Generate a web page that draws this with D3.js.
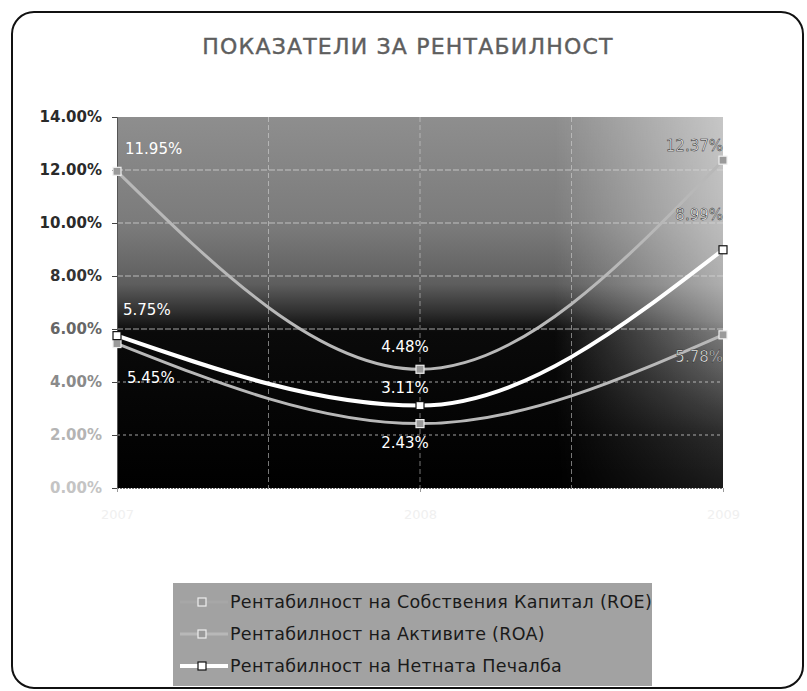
<!DOCTYPE html>
<html>
<head>
<meta charset="utf-8">
<script src="https://cdn.jsdelivr.net/npm/d3@7"></script>
<style>
  body { margin: 0; background: #fff; }
  text { font-family: "DejaVu Sans", "Liberation Sans", Arial, sans-serif; }
</style>
</head>
<body>
<div id="chart"></div>
<script>
var width = 807,
    height = 691,
    plot = {left: 117, right: 723, top: 117, bottom: 488};

// chart data
var title = "ПОКАЗАТЕЛИ ЗА РЕНТАБИЛНОСТ";
var categories = ["2007", "2008", "2009"];
var roe = [0.1195, 0.0448, 0.1237],
    roa = [0.0545, 0.0243, 0.0578],
    npm = [0.0575, 0.0311, 0.0899];
var seriesNames = [
    "Рентабилност на Собствения Капитал (ROE)",
    "Рентабилност на Активите (ROA)",
    "Рентабилност на Нетната Печалба"
];
var yTicks = [0, 0.02, 0.04, 0.06, 0.08, 0.10, 0.12, 0.14];

// look of each series, and where its data labels sit
var series = [
    {name: seriesNames[0], values: roe, line: "#b8b8b8", width: 3, mFill: "#9a9a9a", mStroke: "#eee",
     labels: [{a: "start", dx: 8, dy: -17}, {a: "middle", dx: -15, dy: -17}, {a: "end", dx: 0, dy: -9}]},
    {name: seriesNames[1], values: roa, line: "#b8b8b8", width: 3, mFill: "#9a9a9a", mStroke: "#eee",
     labels: [{a: "start", dx: 10, dy: 39}, {a: "middle", dx: -15, dy: 24}, {a: "end", dx: 0, dy: 27}]},
    {name: seriesNames[2], values: npm, line: "#ffffff", width: 4, mFill: "#fff", mStroke: "#111",
     labels: [{a: "start", dx: 6, dy: -21}, {a: "middle", dx: -15, dy: -13}, {a: "end", dx: 0, dy: -30}]}
];

var svg = d3.select("#chart").append("svg")
    .attr("width", width)
    .attr("height", height);

var defs = svg.append("defs");
var vg = defs.append("linearGradient").attr("id", "bgv")
    .attr("x1", 0).attr("y1", 0).attr("x2", 0).attr("y2", 1);
[[0, "#8e8e8e"], [0.3, "#7a7a7a"], [0.45, "#5e5e5e"], [0.52, "#333"], [0.58, "#0a0a0a"], [1, "#000"]]
    .forEach(function(s) { vg.append("stop").attr("offset", s[0]).attr("stop-color", s[1]); });
var hg = defs.append("linearGradient").attr("id", "bgh")
    .attr("x1", 0).attr("y1", 0).attr("x2", 1).attr("y2", 0);
[[0, 0], [0.72, 0], [0.9, 0.32], [1, 0.5]]
    .forEach(function(s) { hg.append("stop").attr("offset", s[0]).attr("stop-color", "#fff").attr("stop-opacity", s[1]); });
// the light strip on the right fades out towards the bottom
var mg = defs.append("linearGradient").attr("id", "fadev")
    .attr("x1", 0).attr("y1", 0).attr("x2", 0).attr("y2", 1);
[[0, "#fff"], [0.55, "#fff"], [0.85, "#555"], [1, "#333"]]
    .forEach(function(s) { mg.append("stop").attr("offset", s[0]).attr("stop-color", s[1]); });
defs.append("mask").attr("id", "rightmask")
    .append("rect")
    .attr("x", plot.left).attr("y", plot.top)
    .attr("width", plot.right - plot.left).attr("height", plot.bottom - plot.top)
    .attr("fill", "url(#fadev)");

// frame
svg.append("rect")
    .attr("x", 12).attr("y", 12)
    .attr("width", 791).attr("height", 676)
    .attr("rx", 22)
    .attr("fill", "#fff")
    .attr("stroke", "#111")
    .attr("stroke-width", 2);

svg.append("text")
    .attr("x", 408).attr("y", 54)
    .attr("text-anchor", "middle")
    .attr("font-size", 22)
    .attr("letter-spacing", 1.2)
    .attr("fill", "#5e5e5e")
    .attr("stroke", "#5e5e5e")
    .attr("stroke-width", 0.4)
    .text(title);

var x = d3.scalePoint().domain(categories).range([plot.left, plot.right]);
var y = d3.scaleLinear().domain([0, 0.14]).range([plot.bottom, plot.top]);

// plot area background
svg.append("rect")
    .attr("x", plot.left).attr("y", plot.top)
    .attr("width", plot.right - plot.left).attr("height", plot.bottom - plot.top)
    .attr("fill", "url(#bgv)");
svg.append("rect")
    .attr("x", plot.left).attr("y", plot.top)
    .attr("width", plot.right - plot.left).attr("height", plot.bottom - plot.top)
    .attr("fill", "url(#bgh)")
    .attr("mask", "url(#rightmask)");

// gridlines
svg.append("g").selectAll("line")
    .data(yTicks.slice(1, -1))
    .join("line")
    .attr("x1", plot.left).attr("x2", plot.right)
    .attr("y1", function(d) { return y(d); })
    .attr("y2", function(d) { return y(d); })
    .attr("stroke", "#d8d8d8")
    .attr("stroke-opacity", 0.75)
    .attr("stroke-dasharray", function(d) { return d < 0.05 ? "3,3" : "6,2"; });
var vgrid = [];
categories.forEach(function(c, i) {
    vgrid.push(x(c));
    if (i < categories.length - 1) vgrid.push((x(c) + x(categories[i + 1])) / 2);
});
svg.append("g").selectAll("line")
    .data(vgrid.slice(1, -1))
    .join("line")
    .attr("x1", function(d) { return d; }).attr("x2", function(d) { return d; })
    .attr("y1", plot.top).attr("y2", plot.bottom)
    .attr("stroke", "#d8d8d8")
    .attr("stroke-opacity", 0.55)
    .attr("stroke-dasharray", "5,3");

// axes
var yAxis = svg.append("g")
    .attr("transform", "translate(" + plot.left + ",0)")
    .call(d3.axisLeft(y).tickValues(yTicks).tickSize(5).tickPadding(10).tickFormat(d3.format(".2%")));
yAxis.select(".domain").attr("stroke", "#555");
yAxis.selectAll(".tick line").attr("stroke", "#444");
var yShade = ["#c4c4c4", "#b4b4b4", "#8a8a8a", "#666", "#333", "#2a2a2a", "#2a2a2a", "#2a2a2a"];
yAxis.selectAll(".tick text")
    .attr("font-family", "'DejaVu Sans', sans-serif")
    .attr("font-size", 15)
    .attr("font-weight", "bold")
    .attr("fill", function(d, i) { return yShade[i]; });

var xAxis = svg.append("g")
    .attr("transform", "translate(0," + plot.bottom + ")")
    .call(d3.axisBottom(x).tickSize(4).tickPadding(18));
xAxis.select(".domain").attr("stroke", "#777").attr("stroke-dasharray", "2,1");
xAxis.selectAll(".tick line").attr("stroke", "#999");
xAxis.selectAll(".tick text")
    .attr("font-family", "'DejaVu Sans', sans-serif")
    .attr("font-size", 13)
    .attr("fill", "#f0f0f0");

// lines
var line = d3.line()
    .x(function(d, i) { return x(categories[i]); })
    .y(function(d) { return y(d); })
    .curve(d3.curveMonotoneX);

var groups = svg.append("g").selectAll("g")
    .data(series)
    .join("g");
groups.append("path")
    .attr("d", function(s) { return line(s.values); })
    .attr("fill", "none")
    .attr("stroke", function(s) { return s.line; })
    .attr("stroke-width", function(s) { return s.width; });
groups.selectAll("rect")
    .data(function(s) { return s.values.map(function(v, i) { return {s: s, v: v, i: i}; }); })
    .join("rect")
    .attr("x", function(d) { return x(categories[d.i]) - 4; })
    .attr("y", function(d) { return y(d.v) - 4; })
    .attr("width", 8).attr("height", 8)
    .attr("fill", function(d) { return d.s.mFill; })
    .attr("stroke", function(d) { return d.s.mStroke; })
    .attr("stroke-width", 1.2);

// data labels
groups.selectAll("text")
    .data(function(s) { return s.values.map(function(v, i) { return {s: s, v: v, i: i}; }); })
    .join("text")
    .attr("x", function(d) { return x(categories[d.i]) + d.s.labels[d.i].dx; })
    .attr("y", function(d) { return y(d.v) + d.s.labels[d.i].dy; })
    .attr("text-anchor", function(d) { return d.s.labels[d.i].a; })
    .attr("font-size", 15)
    .attr("fill", "#fff")
    .attr("stroke", function(d) { return d.i == 2 ? "#222" : "none"; })
    .attr("stroke-width", 0.5)
    .text(function(d) { return d3.format(".2%")(d.v); });

// legend
var legend = svg.append("g").attr("transform", "translate(173,583)");
legend.append("rect")
    .attr("width", 479).attr("height", 103)
    .attr("fill", "#a2a2a2");
var item = legend.selectAll(".item")
    .data(series)
    .join("g")
    .attr("class", "item")
    .attr("transform", function(d, i) { return "translate(0," + (19 + i * 32) + ")"; });
item.append("line")
    .attr("x1", 7).attr("x2", 55)
    .attr("stroke", function(d) { return d.line; })
    .attr("stroke-width", function(d) { return d.width; })
    .attr("stroke-opacity", function(d, i) { return i == 0 ? 0.25 : 1; });
item.append("rect")
    .attr("x", 25).attr("y", -4)
    .attr("width", 8).attr("height", 8)
    .attr("fill", function(d) { return d.mFill; })
    .attr("stroke", function(d) { return d.mStroke; })
    .attr("stroke-width", 1.2);
item.append("text")
    .attr("x", 57).attr("y", 6)
    .attr("font-size", 17.5)
    .attr("letter-spacing", 0.3)
    .attr("fill", "#1a1a1a")
    .text(function(d) { return d.name; });
</script>
</body>
</html>
